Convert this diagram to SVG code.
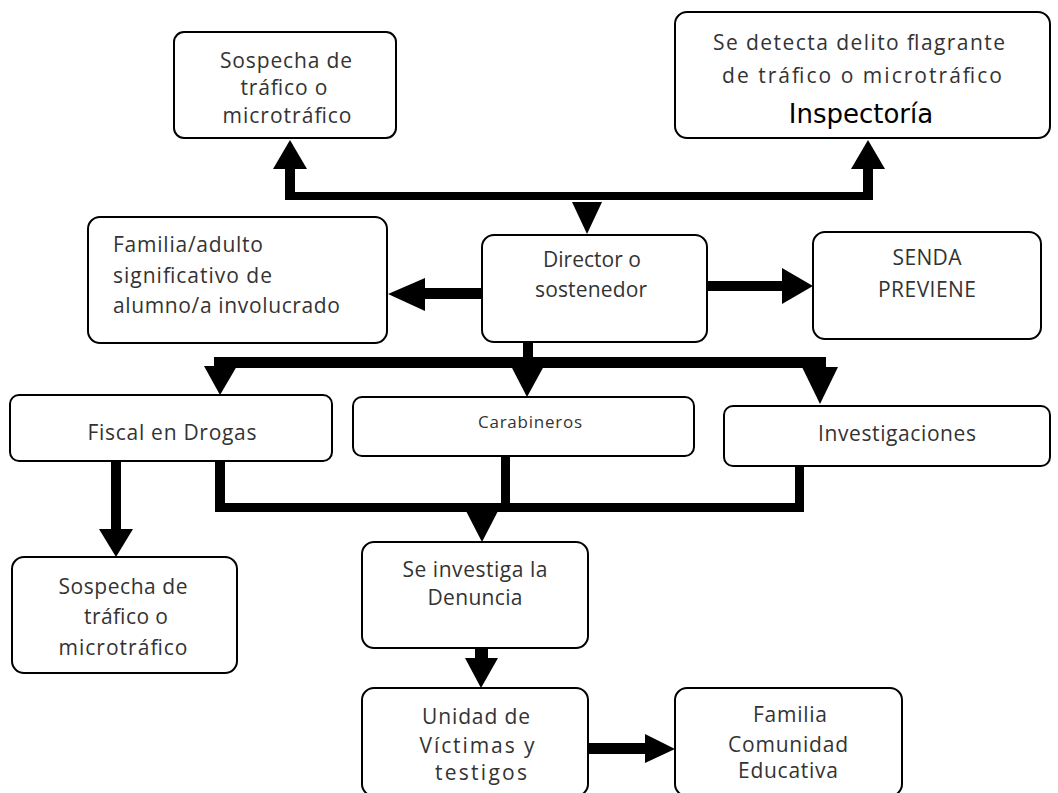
<svg xmlns="http://www.w3.org/2000/svg" width="1058" height="793" viewBox="0 0 1058 793">
<style>
.box{fill:#fff;stroke:#000;stroke-width:2}
.t{font-family:"Open Sans","Liberation Sans",sans-serif;font-size:21px;fill:#333;text-anchor:middle}
.tl{text-anchor:start}
.sm{font-size:17px}
.insp{font-family:"DejaVu Sans","Liberation Sans",sans-serif;font-size:26px;fill:#000;text-anchor:middle}
.c{fill:#000;stroke:none}
</style>
<rect width="1058" height="793" fill="#fff"/>
<g id="connectors">
  <rect class="c" x="285" y="192" width="588" height="8"/>
  <rect class="c" x="285" y="168" width="10" height="32"/>
  <polygon class="c" points="273,169 307,169 290,140"/>
  <rect class="c" x="863" y="168" width="10" height="32"/>
  <polygon class="c" points="851,169 885,169 868,140"/>
  <polygon class="c" points="572,202 602,202 587,234"/>
  <rect class="c" x="424" y="288" width="59" height="11"/>
  <polygon class="c" points="425,278 425,311 388,294"/>
  <rect class="c" x="706" y="281" width="78" height="10"/>
  <polygon class="c" points="782,268 782,304 813,286"/>
  <rect class="c" x="523" y="341" width="10" height="27"/>
  <rect class="c" x="214" y="357" width="612" height="11"/>
  <polygon class="c" points="204,366 237,366 220,395"/>
  <polygon class="c" points="511,366 544,366 527,397"/>
  <polygon class="c" points="802,367 838,367 820,404"/>
  <rect class="c" x="111" y="460" width="10" height="71"/>
  <polygon class="c" points="99,529 133,529 116,557"/>
  <rect class="c" x="215" y="460" width="10" height="52"/>
  <rect class="c" x="501" y="455" width="9" height="57"/>
  <rect class="c" x="795" y="465" width="9" height="47"/>
  <rect class="c" x="215" y="503" width="589" height="9"/>
  <polygon class="c" points="466,511 498,511 482,542"/>
  <rect class="c" x="475" y="647" width="13" height="13"/>
  <polygon class="c" points="465,658 498,658 481,688"/>
  <rect class="c" x="587" y="743" width="60" height="11"/>
  <polygon class="c" points="645,734 645,763 675,749"/>
</g>
<g id="n_sospecha1">
  <rect class="box" x="174" y="32" width="222" height="106" rx="10"/>
  <text class="t" x="286" y="68" textLength="132" lengthAdjust="spacing">Sospecha de</text>
  <text class="t" x="284" y="95" textLength="87" lengthAdjust="spacing">tráfico o</text>
  <text class="t" x="287" y="123" textLength="129" lengthAdjust="spacing">microtráfico</text>
</g>
<g id="n_flagrante">
  <rect class="box" x="675" y="12" width="375" height="126" rx="12"/>
  <text class="t" x="859" y="50" textLength="292" lengthAdjust="spacing">Se detecta delito flagrante</text>
  <text class="t" x="862" y="83" textLength="280" lengthAdjust="spacing">de tráfico o microtráfico</text>
  <text class="insp" x="861" y="123">Inspectoría</text>
</g>
<g id="n_familia">
  <rect class="box" x="88" y="217" width="299" height="126" rx="12"/>
  <text class="t tl" x="113" y="252" textLength="150" lengthAdjust="spacing">Familia/adulto</text>
  <text class="t tl" x="113" y="283" textLength="159" lengthAdjust="spacing">significativo de</text>
  <text class="t tl" x="113" y="313" textLength="227" lengthAdjust="spacing">alumno/a involucrado</text>
</g>
<g id="n_director">
  <rect class="box" x="482" y="235" width="225" height="107" rx="12"/>
  <text class="t" x="592" y="267" textLength="98" lengthAdjust="spacing">Director o</text>
  <text class="t" x="591" y="297" textLength="112" lengthAdjust="spacing">sostenedor</text>
</g>
<g id="n_senda">
  <rect class="box" x="813" y="232" width="228" height="107" rx="12"/>
  <text class="t" x="927" y="265" textLength="69" lengthAdjust="spacing">SENDA</text>
  <text class="t" x="927" y="297" textLength="98" lengthAdjust="spacing">PREVIENE</text>
</g>
<g id="n_fiscal">
  <rect class="box" x="10" y="395" width="322" height="66" rx="9"/>
  <text class="t" x="172" y="440" textLength="169" lengthAdjust="spacing">Fiscal en Drogas</text>
</g>
<g id="n_carabineros">
  <rect class="box" x="353" y="397" width="341" height="59" rx="9"/>
  <text class="t sm" x="530" y="428" textLength="104" lengthAdjust="spacing">Carabineros</text>
</g>
<g id="n_investigaciones">
  <rect class="box" x="724" y="406" width="326" height="60" rx="9"/>
  <text class="t" x="897" y="441" textLength="158" lengthAdjust="spacing">Investigaciones</text>
</g>
<g id="n_sospecha2">
  <rect class="box" x="12" y="557" width="225" height="116" rx="12"/>
  <text class="t" x="123" y="594" textLength="129" lengthAdjust="spacing">Sospecha de</text>
  <text class="t" x="126" y="624" textLength="84" lengthAdjust="spacing">tráfico o</text>
  <text class="t" x="123" y="655" textLength="129" lengthAdjust="spacing">microtráfico</text>
</g>
<g id="n_investiga">
  <rect class="box" x="362" y="542" width="226" height="106" rx="12"/>
  <text class="t" x="475" y="577" textLength="145" lengthAdjust="spacing">Se investiga la</text>
  <text class="t" x="475" y="605" textLength="95" lengthAdjust="spacing">Denuncia</text>
</g>
<g id="n_unidad">
  <rect class="box" x="362" y="688" width="226" height="108" rx="12"/>
  <text class="t" x="476" y="724" textLength="108" lengthAdjust="spacing">Unidad de</text>
  <text class="t" x="477" y="753" textLength="115" lengthAdjust="spacing">Víctimas y</text>
  <text class="t" x="481" y="780" textLength="92" lengthAdjust="spacing">testigos</text>
</g>
<g id="n_familia2">
  <rect class="box" x="675" y="688" width="227" height="108" rx="12"/>
  <text class="t" x="790" y="722" textLength="74" lengthAdjust="spacing">Familia</text>
  <text class="t" x="788" y="752" textLength="120" lengthAdjust="spacing">Comunidad</text>
  <text class="t" x="788" y="778" textLength="100" lengthAdjust="spacing">Educativa</text>
</g>
</svg>
